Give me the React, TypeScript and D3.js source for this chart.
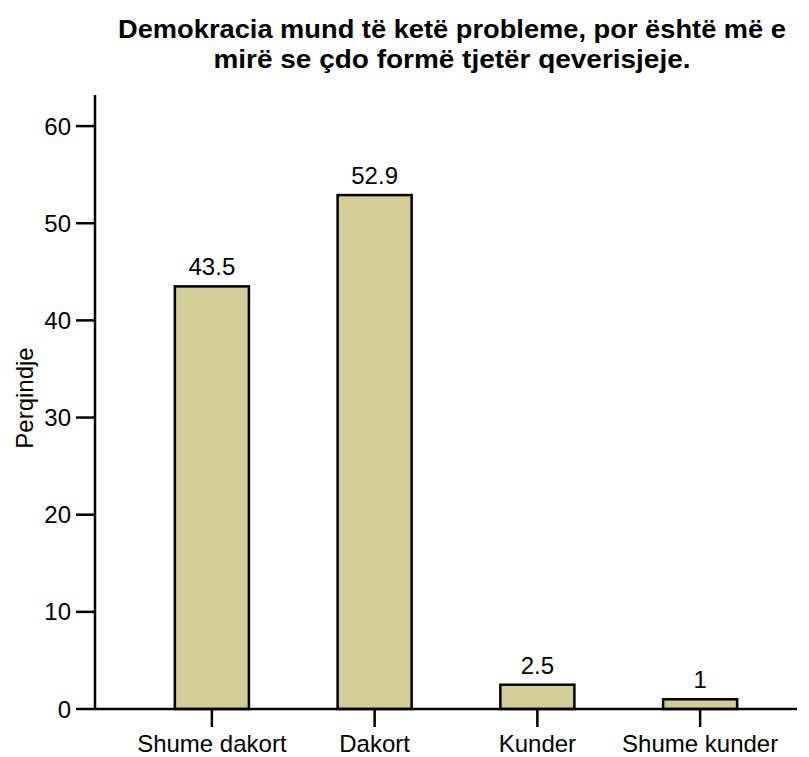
import React from "react";
import * as d3 from "d3";

const categories = ["Shume dakort", "Dakort", "Kunder", "Shume kunder"];
const values = [43.5, 52.9, 2.5, 1];
const yTicks = [0, 10, 20, 30, 40, 50, 60];
const titleLines = [
  "Demokracia mund të ketë probleme, por është më e",
  "mirë se çdo formë tjetër qeverisjeje.",
];
const yLabel = "Perqindje";

export default function App() {
  const W = 809, H = 757;
  const x0 = 95, x1 = 797, yBase = 709, yTop = 95;
  const y = d3.scaleLinear().domain([0, 63.2]).range([yBase, yTop]);
  const x = d3.scaleBand<string>().domain(categories).range([130.5, 781.5]).paddingInner(0.545).paddingOuter(0.2725);
  const font = "Liberation Sans, Arial, Helvetica, sans-serif";
  return (
    <svg width={W} height={H} style={{ position: "absolute", left: 0, top: 0 }} fontFamily={font}>
      <rect width={W} height={H} fill="white" />
      {titleLines.map((t, i) => (
        <text key={i} x={452} y={38 + i * 30} textAnchor="middle" fontWeight="bold" fontSize={25} textLength={i === 0 ? 668 : 477} lengthAdjust="spacingAndGlyphs">{t}</text>
      ))}
      {values.map((v, i) => (
        <g key={i}>
          <rect x={x(categories[i])!} y={y(v)} width={x.bandwidth()} height={yBase - y(v)} fill="#d3ce98" stroke="black" strokeWidth={2.5} />
          <text x={x(categories[i])! + x.bandwidth() / 2} y={y(v) - 11} textAnchor="middle" fontSize={24}>{String(v)}</text>
        </g>
      ))}
      <line x1={x0} x2={x0} y1={yTop} y2={yBase + 1} stroke="black" strokeWidth={2.5} />
      <line x1={x0} x2={x1} y1={yBase} y2={yBase} stroke="black" strokeWidth={2.5} />
      {yTicks.map((t) => (
        <g key={t}>
          <line x1={x0 - 19} x2={x0} y1={y(t)} y2={y(t)} stroke="black" strokeWidth={2.5} />
          <text x={x0 - 24} y={y(t) + 8.5} textAnchor="end" fontSize={24}>{t}</text>
        </g>
      ))}
      {categories.map((c) => {
        const cx = x(c)! + x.bandwidth() / 2;
        return (
          <g key={c}>
            <line x1={cx} x2={cx} y1={yBase} y2={yBase + 18} stroke="black" strokeWidth={2.5} />
            <text x={cx} y={752} textAnchor="middle" fontSize={24}>{c}</text>
          </g>
        );
      })}
      <text transform={`translate(33, 398) rotate(-90)`} textAnchor="middle" fontSize={24}>{yLabel}</text>
    </svg>
  );
}
